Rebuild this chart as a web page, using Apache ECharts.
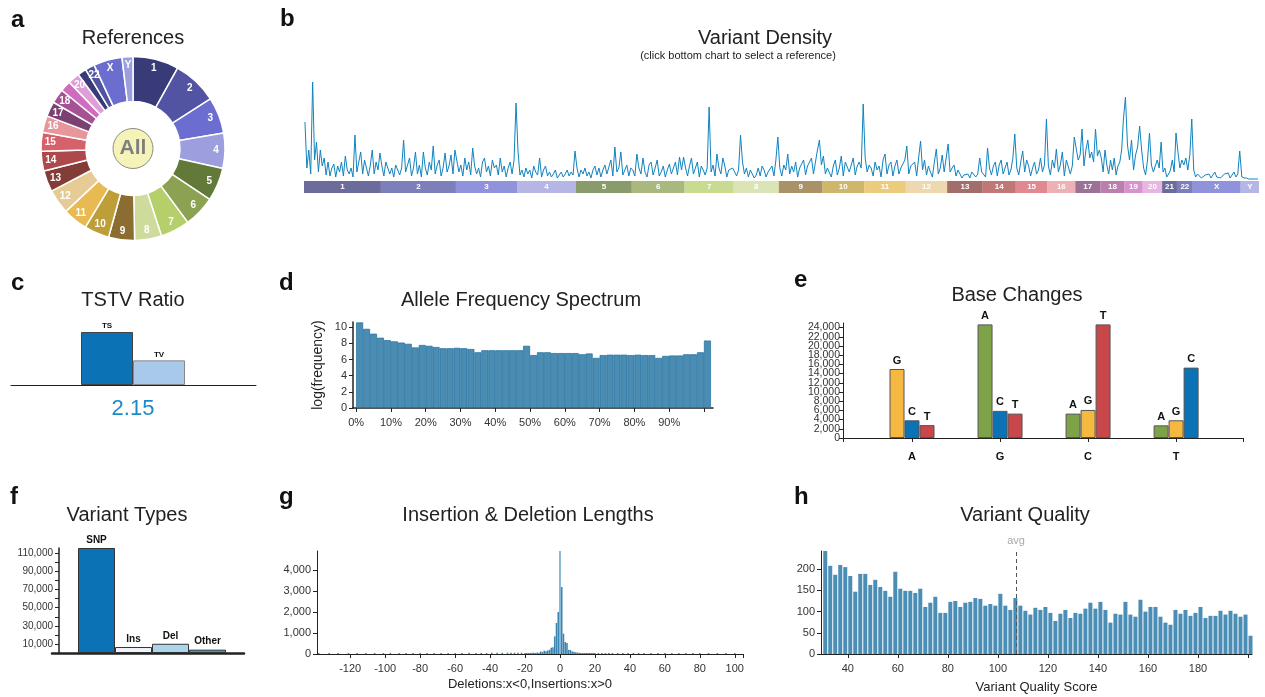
<!DOCTYPE html>
<html>
<head>
<meta charset="utf-8">
<title>Variant report</title>
<script src="https://cdn.jsdelivr.net/npm/echarts@6/dist/echarts.min.js"></script>
<style>
  html, body { margin: 0; padding: 0; background: #fff; }
  #chart { width: 1265px; height: 697px; }
</style>
</head>
<body>
<div id="chart"></div>
<script>
// ---------- data ----------
const chromNames = ['1', '2', '3', '4', '5', '6', '7', '8', '9', '10', '11', '12',
  '13', '14', '15', '16', '17', '18', '19', '20', '21', '22', 'X', 'Y']
// reference lengths (Mb)
const chromLenMb = [249.3, 243.2, 198.0, 191.2, 180.9, 171.1, 159.1, 146.4, 141.2, 135.5, 135.0, 133.9,
  115.2, 107.3, 102.5, 90.4, 81.2, 78.1, 59.1, 63.0, 48.1, 51.3, 155.3, 59.4]

// variant density per reference (relative units)
const densityByChrom = [
  [58, 12, 30, 6, 98, 20, 38, 8, 30, 14, 22, 5, 18, 4, 12, 16, 3, 14, 8, 18, 4, 24, 10, 6, 12, 3, 45, 8, 18, 28, 6, 20, 12, 4, 15, 30, 6, 18, 10, 27],
  [14, 4, 18, 20, 6, 12, 3, 15, 10, 5, 12, 40, 8, 15, 22, 4, 12, 28, 6, 15, 3, 28, 12, 5, 18, 10, 34, 6, 15, 20, 4, 12, 27, 8, 14, 25, 6, 30],
  [30, 8, 15, 4, 22, 10, 18, 5, 32, 14, 6, 12, 3, 18, 22, 8, 14, 4, 20, 12, 15, 5, 22, 8, 14, 3, 12, 18, 6, 20, 77],
  [29, 5, 10, 3, 12, 6, 10, 2, 14, 8, 5, 22, 3, 10, 14, 4, 8, 3, 6, 10, 2, 5, 8, 3, 6, 10, 4, 8, 5, 29],
  [12, 3, 10, 6, 12, 4, 8, 2, 10, 14, 5, 12, 3, 10, 15, 6, 8, 20, 4, 33, 8, 12, 28, 5, 10, 15, 4, 12],
  [10, 4, 26, 12, 6, 22, 8, 3, 15, 18, 5, 12, 20, 4, 8, 14, 3, 10, 16, 6, 12, 18, 5, 23, 10, 23],
  [12, 4, 14, 22, 6, 12, 18, 3, 14, 10, 5, 12, 73, 8, 15, 4, 26, 12, 6, 22, 14, 3, 10, 8, 12],
  [12, 4, 10, 45, 18, 6, 12, 3, 10, 8, 2, 5, 12, 4, 14, 10, 3, 8, 6, 14, 4, 20, 43],
  [12, 4, 15, 10, 26, 6, 14, 8, 18, 3, 12, 10, 20, 5, 14, 12, 22, 6, 18, 30, 40, 15],
  [24, 6, 12, 10, 3, 14, 20, 5, 12, 24, 4, 18, 20, 8, 15, 22, 5, 14, 18, 12, 76],
  [22, 8, 15, 12, 4, 18, 10, 14, 3, 20, 26, 6, 15, 18, 4, 14, 20, 6, 12, 16, 20],
  [34, 6, 14, 12, 18, 4, 22, 39, 10, 20, 5, 14, 8, 3, 18, 31, 6, 12, 25, 8, 10],
  [36, 8, 12, 15, 4, 10, 6, 2, 5, 3, 6, 2, 8, 10, 3, 6, 22, 8],
  [10, 3, 32, 12, 5, 14, 18, 4, 15, 20, 6, 12, 18, 5, 10, 22, 46],
  [12, 5, 18, 29, 8, 20, 14, 4, 12, 18, 6, 10, 22, 8, 15, 61],
  [14, 5, 20, 12, 31, 8, 15, 28, 4, 20, 18, 6, 14, 43],
  [42, 20, 25, 51, 14, 30, 40, 22, 28, 18, 51, 24, 30],
  [22, 8, 30, 15, 6, 20, 10, 22, 5, 14, 18, 30, 62],
  [83, 35, 20, 40, 10, 25, 33, 54, 30],
  [12, 5, 20, 47, 15, 8, 10, 20, 12, 38],
  [8, 12, 3, 6, 10, 20, 8, 47],
  [28, 12, 20, 15, 22, 10, 25, 61],
  [10, 3, 6, 8, 2, 4, 5, 3, 6, 2, 4, 8, 3, 5, 2, 3, 6, 4, 7, 2, 5, 8, 3, 6, 29],
  [3, 2, 2, 1, 1, 1, 1, 1]
]

const tstvLabels = ['TS', 'TV']
const tstvCounts = [79200, 36800]

// allele frequency spectrum, 2% bins starting at 0%
const afLogFreq = [10.6, 9.8, 9.2, 8.7, 8.4, 8.25, 8.1, 7.95, 7.5, 7.8, 7.7, 7.55, 7.4, 7.4, 7.45, 7.4, 7.3,
  6.9, 7.15, 7.15, 7.15, 7.15, 7.15, 7.15, 7.7, 6.55, 6.9, 6.9, 6.8, 6.8, 6.8, 6.8, 6.65, 6.75, 6.2,
  6.55, 6.6, 6.6, 6.6, 6.55, 6.6, 6.55, 6.55, 6.2, 6.45, 6.5, 6.5, 6.65, 6.65, 6.9, 8.35]
const afTicks = [0, 10, 20, 30, 40, 50, 60, 70, 80, 90]

const baseRefs = ['A', 'G', 'C', 'T']
const baseAlts = [['G', 'C', 'T'], ['A', 'C', 'T'], ['A', 'G', 'T'], ['A', 'G', 'C']]
const baseCounts = [[15000, 3850, 2800], [24700, 5900, 5300], [5300, 6100, 24700], [2750, 3850, 15300]]
const baseTicks = [0, 2000, 4000, 6000, 8000, 10000, 12000, 14000, 16000, 18000, 20000, 22000, 24000]

const typeNames = ['SNP', 'Ins', 'Del', 'Other']
const typeCounts = [116000, 6600, 10200, 3700]

const indelLengths = [-138, -132, -127, -121, -116, -111, -106, -101, -97, -92, -88, -84, -80, -76, -72, -68,
  -64, -60, -56, -52, -48, -45, -42, -39, -36, -33, -30, -28, -26, -24, -22,
  -20, -19, -18, -17, -16, -15, -14, -13, -12, -11, -10, -9, -8, -7, -6, -5, -4, -3, -2, -1,
  0, 1, 2, 3, 4, 5, 6, 7, 8, 9, 10, 11, 12, 13, 14, 15, 16, 17, 18, 19, 20,
  22, 24, 26, 28, 30, 33, 36, 39, 42, 45, 48, 52, 56, 60, 64, 68, 72, 76, 80, 85, 90, 95, 100]
const indelCounts = [30, 35, 40, 30, 35, 40, 35, 45, 30, 40, 45, 35, 40, 50, 35, 45,
  40, 50, 45, 55, 50, 55, 50, 60, 55, 60, 65, 55, 60, 65, 60,
  40, 50, 45, 35, 55, 60, 45, 70, 60, 120, 90, 160, 130, 170, 200, 300, 320, 840, 1480, 2010,
  4920, 3200, 970, 570, 520, 200, 190, 120, 110, 80, 70, 60, 50, 45, 40, 40, 30, 35, 25, 30, 30,
  45, 40, 35, 40, 35, 40, 30, 35, 30, 35, 30, 35, 30, 35, 30, 35, 30, 35, 30, 35, 30, 35, 30]
const indelTicks = [-120, -100, -80, -60, -40, -20, 0, 20, 40, 60, 80, 100]

// variant quality, 2-point bins starting at 30
const qualCounts = [243, 208, 187, 210, 205, 184, 147, 189, 189, 163, 175, 158, 149, 135, 194, 154, 149,
  149, 144, 154, 111, 121, 135, 97, 97, 123, 125, 111, 121, 123, 132, 130, 114, 118, 114, 142, 114,
  104, 132, 114, 102, 93, 109, 104, 111, 97, 78, 95, 104, 85, 97, 95, 107, 121, 107, 123, 104, 74,
  95, 93, 123, 93, 88, 128, 100, 111, 111, 88, 74, 69, 104, 95, 104, 90, 97, 111, 85, 90, 90, 102,
  93, 102, 95, 88, 93, 43]
const qualAvg = 107.3
const qualTicks = [40, 60, 80, 100, 120, 140, 160, 180]

// ---------- styles ----------
const FONT = 'Liberation Sans'
const palette20b = ['#393b79', '#5254a3', '#6b6ecf', '#9c9ede', '#637939', '#8ca252', '#b5cf6b', '#cedb9c',
  '#8c6d31', '#bd9e39', '#e7ba52', '#e7cb94', '#843c39', '#ad494a', '#d6616b', '#e7969c',
  '#7b4173', '#a55194', '#ce6dbd', '#de9ed6']
const baseColor = { A: '#7ea248', G: '#f5b942', C: '#0a72b5', T: '#c8474a' }
const typeColor = ['#0a72b5', '#eef4fa', '#acd5ea', '#26a2d0']
const stroke = '#222'
const commas = (v) => echarts.format.addCommas(v)

const chromStart = []
let genomeLen = 0
chromLenMb.forEach((l) => { chromStart.push(genomeLen); genomeLen += l })

const densityPoints = []
densityByChrom.forEach((vals, c) => {
  vals.forEach((v, j) => densityPoints.push([chromStart[c] + (j + 0.5) / vals.length * chromLenMb[c], v]))
})

function axisLine(width) {
  return { show: true, onZero: false, lineStyle: { color: stroke, width: width || 1 } }
}
function ticks(values) {
  return { show: true, length: 4, inside: false, customValues: values, lineStyle: { color: stroke } }
}
function labels(values, fmt, extra) {
  return Object.assign({
    show: true, customValues: values, formatter: fmt, color: '#333', fontSize: 11, fontFamily: FONT,
    showMinLabel: true, showMaxLabel: true, hideOverlap: false
  }, extra || {})
}
const hidden = { show: false }

function heading(text, x, y, size, extra) {
  return {
    text, left: x, top: y, textAlign: 'center', padding: 0,
    textStyle: Object.assign({ fontSize: size, fontWeight: 'normal', color: '#222', fontFamily: FONT }, extra || {})
  }
}
function letter(text, x, y) {
  return { text, left: x, top: y, padding: 0, textStyle: { fontSize: 24, fontWeight: 'bold', color: '#111', fontFamily: FONT } }
}

// base-change labels are dense; split them over two overlapping axes so none get dropped
const baseTicksEven = baseTicks.filter((v, i) => i % 2 === 0)
const baseTicksOdd = baseTicks.filter((v, i) => i % 2 === 1)

const option = {
  animation: false,
  textStyle: { fontFamily: FONT },
  title: [
    letter('a', 11, 8), letter('b', 280, 7), letter('c', 11, 271), letter('d', 279, 271),
    letter('e', 794, 268), letter('f', 10, 485), letter('g', 279, 485), letter('h', 794, 485),
    heading('References', 133, 28, 20),
    heading('Variant Density', 765, 28, 20),
    heading('(click bottom chart to select a reference)', 738, 50, 11),
    heading('TSTV Ratio', 133, 290, 20),
    heading((tstvCounts[0] / tstvCounts[1]).toFixed(2), 133, 398, 22, { color: '#1a8bc8' }),
    heading('Allele Frequency Spectrum', 521, 290, 20),
    heading('Base Changes', 1017, 285, 20),
    heading('Variant Types', 127, 505, 20),
    heading('Insertion & Deletion Lengths', 528, 505, 20),
    heading('Variant Quality', 1025, 505, 20)
  ],
  grid: [
    { left: 304, top: 80, width: 955, height: 100 },
    { left: 304, top: 181, width: 955, height: 12 },
    { left: 11, top: 332, width: 245, height: 53 },
    { left: 353, top: 322, width: 360, height: 86 },
    { left: 843, top: 323, width: 400, height: 115 },
    { left: 52, top: 548, width: 192, height: 105 },
    { left: 317, top: 551, width: 426, height: 103 },
    { left: 821, top: 551, width: 431, height: 103 }
  ],
  xAxis: [
    { gridIndex: 0, type: 'value', min: 0, max: genomeLen, show: false },
    { gridIndex: 1, type: 'value', min: 0, max: genomeLen, show: false },
    { gridIndex: 2, type: 'value', min: -1.846, max: 2.865, axisLine: axisLine(1), axisTick: hidden, axisLabel: hidden, splitLine: hidden },
    {
      gridIndex: 3, type: 'value', min: -0.9, max: 102.6, splitLine: hidden, axisLine: axisLine(1.5),
      axisTick: ticks(afTicks.concat([100])), axisLabel: labels(afTicks, (v) => v + '%', { margin: 9 })
    },
    {
      gridIndex: 4, type: 'value', min: -0.784, max: 3.76, splitLine: hidden, axisLine: axisLine(1),
      axisTick: ticks([-0.784, 0, 1, 2, 3, 3.76]),
      axisLabel: labels([0, 1, 2, 3], (v) => baseRefs[Math.round(v)], { fontWeight: 'bold', color: '#111', margin: 13 })
    },
    { gridIndex: 5, type: 'value', min: -1.203, max: 3.986, axisLine: axisLine(2.5), axisTick: hidden, axisLabel: hidden, splitLine: hidden },
    {
      gridIndex: 6, type: 'value', min: -139, max: 104.7, splitLine: hidden, axisLine: axisLine(1),
      axisTick: ticks(indelTicks.concat([104.7])), axisLabel: labels(indelTicks, (v) => String(v), { margin: 9 }),
      name: 'Deletions:x<0,Insertions:x>0', nameLocation: 'middle', nameGap: 24,
      nameTextStyle: { fontSize: 13, color: '#222', fontFamily: FONT }
    },
    {
      gridIndex: 7, type: 'value', min: 29.3, max: 201.6, splitLine: hidden, axisLine: axisLine(1),
      axisTick: ticks(qualTicks.concat([200])), axisLabel: labels(qualTicks, (v) => String(v), { margin: 9 }),
      name: 'Variant Quality Score', nameLocation: 'middle', nameGap: 27,
      nameTextStyle: { fontSize: 13, color: '#222', fontFamily: FONT }
    }
  ],
  yAxis: [
    { gridIndex: 0, type: 'value', min: 0, max: 100, show: false },
    { gridIndex: 1, type: 'value', min: 0, max: 1, show: false },
    { gridIndex: 2, type: 'value', min: 0, max: 'dataMax', show: false },
    {
      gridIndex: 3, type: 'value', min: 0, max: 10.65, splitLine: hidden, axisLine: axisLine(1.5),
      axisTick: ticks([0, 2, 4, 6, 8, 10]), axisLabel: labels([0, 2, 4, 6, 8, 10], (v) => String(v), { margin: 6 }),
      name: 'log(frequency)', nameLocation: 'middle', nameGap: 28,
      nameTextStyle: { fontSize: 14, color: '#222', fontFamily: FONT }
    },
    {
      gridIndex: 4, type: 'value', min: 0, max: 25000, splitLine: hidden, axisLine: axisLine(1),
      axisTick: ticks(baseTicks), axisLabel: labels(baseTicksEven, commas, { margin: 3, fontSize: 10.5 })
    },
    {
      gridIndex: 5, type: 'value', min: 0, max: 'dataMax', offset: -7, splitLine: hidden, axisLine: axisLine(1.5),
      axisTick: ticks([10000, 20000, 30000, 40000, 50000, 60000, 70000, 80000, 90000, 100000, 110000]),
      axisLabel: labels([10000, 30000, 50000, 70000, 90000, 110000], commas, { fontSize: 10, margin: 6 })
    },
    {
      gridIndex: 6, type: 'value', min: 0, max: 'dataMax', splitLine: hidden, axisLine: axisLine(1),
      axisTick: ticks([0, 1000, 2000, 3000, 4000]), axisLabel: labels([0, 1000, 2000, 3000, 4000], commas, { margin: 6 })
    },
    {
      gridIndex: 7, type: 'value', min: 0, max: 'dataMax', splitLine: hidden, axisLine: axisLine(1),
      axisTick: ticks([0, 50, 100, 150, 200]), axisLabel: labels([0, 50, 100, 150, 200], (v) => String(v), { margin: 6 })
    },
    {
      gridIndex: 4, type: 'value', position: 'left', offset: 0, min: 0, max: 25000, splitLine: hidden,
      axisLine: { show: false, onZero: false }, axisTick: hidden,
      axisLabel: labels(baseTicksOdd, commas, { margin: 3, fontSize: 10.5 })
    }
  ],
  series: [
    // b: density trace
    {
      type: 'line', xAxisIndex: 0, yAxisIndex: 0, data: densityPoints, showSymbol: false, silent: true,
      lineStyle: { color: '#1183be', width: 1 }
    },
    // b: reference band
    {
      type: 'custom', xAxisIndex: 1, yAxisIndex: 1, silent: true,
      data: chromNames.map((n, i) => [chromStart[i], chromStart[i] + chromLenMb[i], n]),
      renderItem: (params, api) => {
        const a = api.coord([api.value(0), 0])
        const b = api.coord([api.value(1), 1])
        return {
          type: 'rect',
          shape: { x: a[0], y: b[1], width: b[0] - a[0], height: a[1] - b[1] },
          style: { fill: palette20b[params.dataIndex % 20], opacity: 0.75 },
          textContent: { style: { text: chromNames[params.dataIndex], fill: '#fff', fontSize: 8, fontWeight: 'bold', fontFamily: FONT } },
          textConfig: { position: 'inside' }
        }
      }
    },
    // c: TS / TV
    {
      type: 'bar', xAxisIndex: 2, yAxisIndex: 2, barWidth: '100%',
      data: tstvCounts.map((v, i) => ({
        name: tstvLabels[i], value: [i, v],
        itemStyle: { color: i === 0 ? '#0b72b5' : '#a8c9ea', borderColor: i === 0 ? '#444' : '#888', borderWidth: 1 }
      })),
      label: { show: true, position: 'top', formatter: '{b}', fontSize: 8, fontWeight: 'bold', color: '#111', distance: 2 }
    },
    // d: allele frequency spectrum
    {
      type: 'bar', xAxisIndex: 3, yAxisIndex: 3, barWidth: '100%',
      data: afLogFreq.map((v, i) => [i * 2 + 1, v]),
      itemStyle: { color: '#4b8cb3', borderColor: '#1d6f9f', borderWidth: 0.7 }
    },
    // e: base changes (one series per slot inside each group)
    ...[0, 1, 2].map((slot) => ({
      type: 'bar', xAxisIndex: 4, yAxisIndex: 4, barWidth: 15, barGap: '0%',
      data: baseRefs.map((r, i) => ({
        name: baseAlts[i][slot], value: [i, baseCounts[i][slot]],
        itemStyle: { color: baseColor[baseAlts[i][slot]] }
      })),
      itemStyle: { borderColor: '#555', borderWidth: 1 },
      label: { show: true, position: 'top', formatter: '{b}', fontSize: 11, fontWeight: 'bold', color: '#111', distance: 3 }
    })),
    // f: variant types
    {
      type: 'bar', xAxisIndex: 5, yAxisIndex: 5, barWidth: '100%',
      data: typeCounts.map((v, i) => ({ name: typeNames[i], value: [i, v], itemStyle: { color: typeColor[i] } })),
      itemStyle: { borderColor: '#333', borderWidth: 1 },
      label: { show: true, position: 'top', formatter: '{b}', fontSize: 10, fontWeight: 'bold', color: '#111', distance: 3 }
    },
    // g: indel lengths
    {
      type: 'bar', xAxisIndex: 6, yAxisIndex: 6, barWidth: '90%', barMinHeight: 1,
      data: indelLengths.map((x, i) => ({
        value: [x, indelCounts[i]],
        itemStyle: x === 0 ? { color: '#6aa7cd' } : undefined
      })),
      itemStyle: { color: '#3a86b1' }
    },
    // h: variant quality
    {
      type: 'bar', xAxisIndex: 7, yAxisIndex: 7, barWidth: 4,
      data: qualCounts.map((v, i) => [31 + i * 2, v]),
      itemStyle: { color: '#4a8db5' },
      markLine: {
        silent: true, symbol: 'none',
        lineStyle: { color: '#555', type: [4, 3], width: 1 },
        label: { show: true, position: 'end', formatter: 'avg', color: '#aaa', fontSize: 11, fontFamily: FONT },
        data: [{ xAxis: qualAvg }]
      }
    },
    // a: references donut
    {
      type: 'pie', center: [133, 148.5], radius: [47, 92], startAngle: 90, clockwise: true, silent: true,
      label: { show: false }, labelLine: { show: false },
      itemStyle: { borderColor: '#fff', borderWidth: 1.5 },
      data: chromNames.map((n, i) => ({ name: n, value: chromLenMb[i], itemStyle: { color: palette20b[i % 20] } }))
    },
    {
      type: 'pie', center: [133, 148.5], radius: [68, 92], startAngle: 90, clockwise: true, silent: true,
      itemStyle: { color: 'transparent' }, labelLine: { show: false },
      label: { show: true, position: 'inside', color: '#fff', fontSize: 10, fontWeight: 'bold', fontFamily: FONT },
      data: chromNames.map((n, i) => ({ name: n, value: chromLenMb[i] }))
    },
    {
      type: 'pie', center: [133, 148.5], radius: [0, 20], silent: true,
      itemStyle: { color: '#f6f3b9', borderColor: '#8a8a8a', borderWidth: 1 },
      label: { show: true, position: 'center', formatter: '{b}', fontSize: 21, fontWeight: 'bold', color: '#7f7f7f', fontFamily: FONT },
      data: [{ name: 'All', value: 1 }]
    }
  ]
}

const chart = echarts.init(document.getElementById('chart'), null, { renderer: 'canvas' })
chart.setOption(option)
</script>
</body>
</html>
